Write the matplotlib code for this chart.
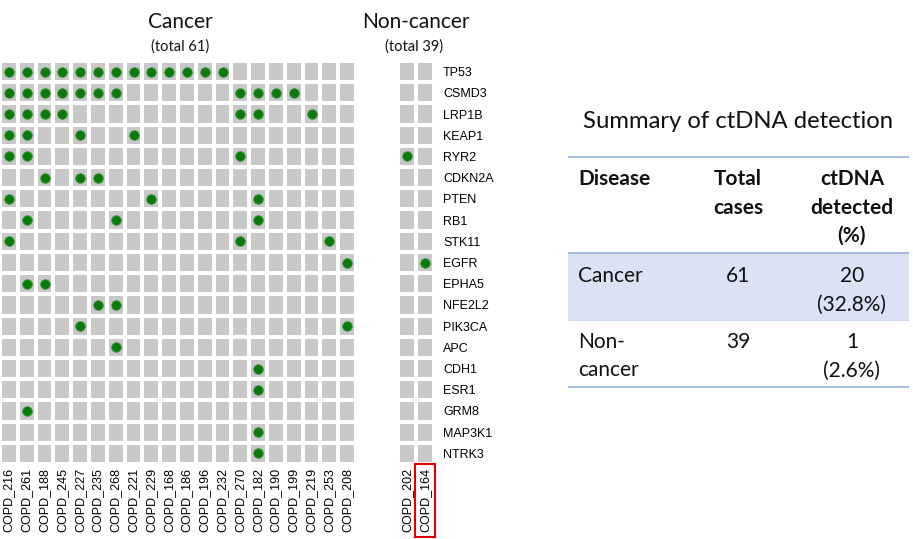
import numpy as np
import matplotlib
matplotlib.use("Agg")
import matplotlib.pyplot as plt

# data
genes = ["TP53", "CSMD3", "LRP1B", "KEAP1", "RYR2", "CDKN2A", "PTEN", "RB1", "STK11",
         "EGFR", "EPHA5", "NFE2L2", "PIK3CA", "APC", "CDH1", "ESR1", "GRM8", "MAP3K1", "NTRK3"]
cancer_ids = ["216", "261", "188", "245", "227", "235", "268", "221", "229", "168",
              "186", "196", "232", "270", "182", "190", "199", "219", "253", "208"]
noncancer_ids = ["202", "164"]

# mutated sample columns per gene (index into the id lists)
cancer_hits = [
    list(range(13)),
    [0, 1, 2, 3, 4, 5, 6, 13, 14, 15, 16],
    [0, 1, 2, 3, 13, 14, 17],
    [0, 1, 4, 7],
    [0, 1, 13],
    [2, 4, 5],
    [0, 8, 14],
    [1, 6, 14],
    [0, 13, 18],
    [19],
    [1, 2],
    [5, 6],
    [4, 19],
    [6],
    [14],
    [14],
    [1],
    [14],
    [14],
]
noncancer_hits = [[], [], [], [], [0], [], [], [], [], [1], [], [], [], [], [], [], [], [], []]

tbl_header = ["Disease", "Total\ncases", "ctDNA\ndetected\n(%)"]
tbl_disease = ["Cancer", "Non-\ncancer"]
tbl_total = [61, 39]
tbl_detected = [20, 1]

W, H = 913, 539
fig = plt.figure(figsize=(W / 100, H / 100), dpi=100)
plt.rcParams['font.family'] = ['Lato', 'DejaVu Sans']

cell_col = "#c8c8c8"
dot_col = "#0b7a0b"
lab_font = "Liberation Sans"
txt_col = "#111111"


def px_axes(x0, y0, x1, y1):
    return fig.add_axes([x0 / W, 1 - y1 / H, (x1 - x0) / W, (y1 - y0) / H])


def draw_grid(ax, ids, hits):
    nr, nc = len(genes), len(ids)
    mat = np.zeros((nr, nc))
    ax.pcolormesh(np.arange(nc + 1), np.arange(nr + 1), mat, cmap=matplotlib.colors.ListedColormap([cell_col]),
                  edgecolors="white", linewidth=1.6)
    xs, ys = [], []
    for r, cols in enumerate(hits):
        for c in cols:
            xs.append(c + 0.5)
            ys.append(r + 0.5)
    ax.scatter(xs, ys, s=48, color=dot_col, edgecolors="#3c9a3c", linewidths=0.6, zorder=3)
    ax.set_xlim(0, nc)
    ax.set_ylim(nr, 0)
    ax.set_xticks(np.arange(nc) + 0.5)
    ax.set_xticklabels(["COPD_" + s for s in ids], rotation=90, fontsize=9, family=lab_font)
    ax.tick_params(length=0, pad=3)
    for sp in ax.spines.values():
        sp.set_visible(False)


ax1 = px_axes(0, 61, 356, 464)
draw_grid(ax1, cancer_ids, cancer_hits)
ax1.set_yticks([])

ax2 = px_axes(398, 61, 434, 464)
draw_grid(ax2, noncancer_ids, noncancer_hits)
ax2.yaxis.tick_right()
ax2.set_yticks(np.arange(len(genes)) + 0.5)
ax2.set_yticklabels(genes, fontsize=9, family=lab_font)
ax2.tick_params(axis="y", pad=6.5)

# red box around last non-cancer sample label
ax2.get_xticklabels()[1].set_bbox(dict(boxstyle="square,pad=0.35", facecolor="none",
                                       edgecolor="#e00000", linewidth=1.5))

# overlay axes in pixel coords for titles and table
ov = fig.add_axes([0, 0, 1, 1], zorder=-1)
ov.set_xlim(0, W)
ov.set_ylim(H, 0)
ov.axis("off")

ov.text(180, 22, "Cancer", fontsize=15, ha="center", va="center", color=txt_col)
ov.text(180, 47, "(total %d)" % tbl_total[0], fontsize=10.5, ha="center", va="center", color=txt_col)
ov.text(416, 22, "Non-cancer", fontsize=15, ha="center", va="center", color=txt_col)
ov.text(414, 47, "(total %d)" % tbl_total[1], fontsize=10.5, ha="center", va="center", color=txt_col)

# summary table
ov.text(738, 128, "Summary of ctDNA detection", fontsize=17.2, ha="center", va="baseline", color=txt_col)
line_col = "#8eaadb"
ov.fill_between([568, 909], 253, 320, color="#dae3f3", lw=0)
ov.hlines([157, 252.5, 387], 568, 909, color=line_col, lw=1.1)
ov.hlines([320], 568, 909, color="#c5d3ea", lw=0.6)

col_x = [578, 738, 852]
col_ha = ["left", "center", "center"]
step = 28.5


def cell_text(x, ha, y0, txt, bold=False):
    for i, ln in enumerate(txt.split("\n")):
        ov.text(x, y0 + i * step, ln, fontsize=15, ha=ha, va="baseline", color=txt_col,
                fontweight="bold" if bold else "normal")


for j, h in enumerate(tbl_header):
    cell_text(col_x[j], col_ha[j], 185, h, bold=True)

row_y = [282, 348]
for i in range(len(tbl_disease)):
    pct = tbl_detected[i] / tbl_total[i] * 100
    cell_text(col_x[0], col_ha[0], row_y[i], tbl_disease[i])
    cell_text(col_x[1], col_ha[1], row_y[i], str(tbl_total[i]))
    cell_text(col_x[2], col_ha[2], row_y[i], "%d\n(%.1f%%)" % (tbl_detected[i], pct))

fig.savefig("out.png", dpi=100)
